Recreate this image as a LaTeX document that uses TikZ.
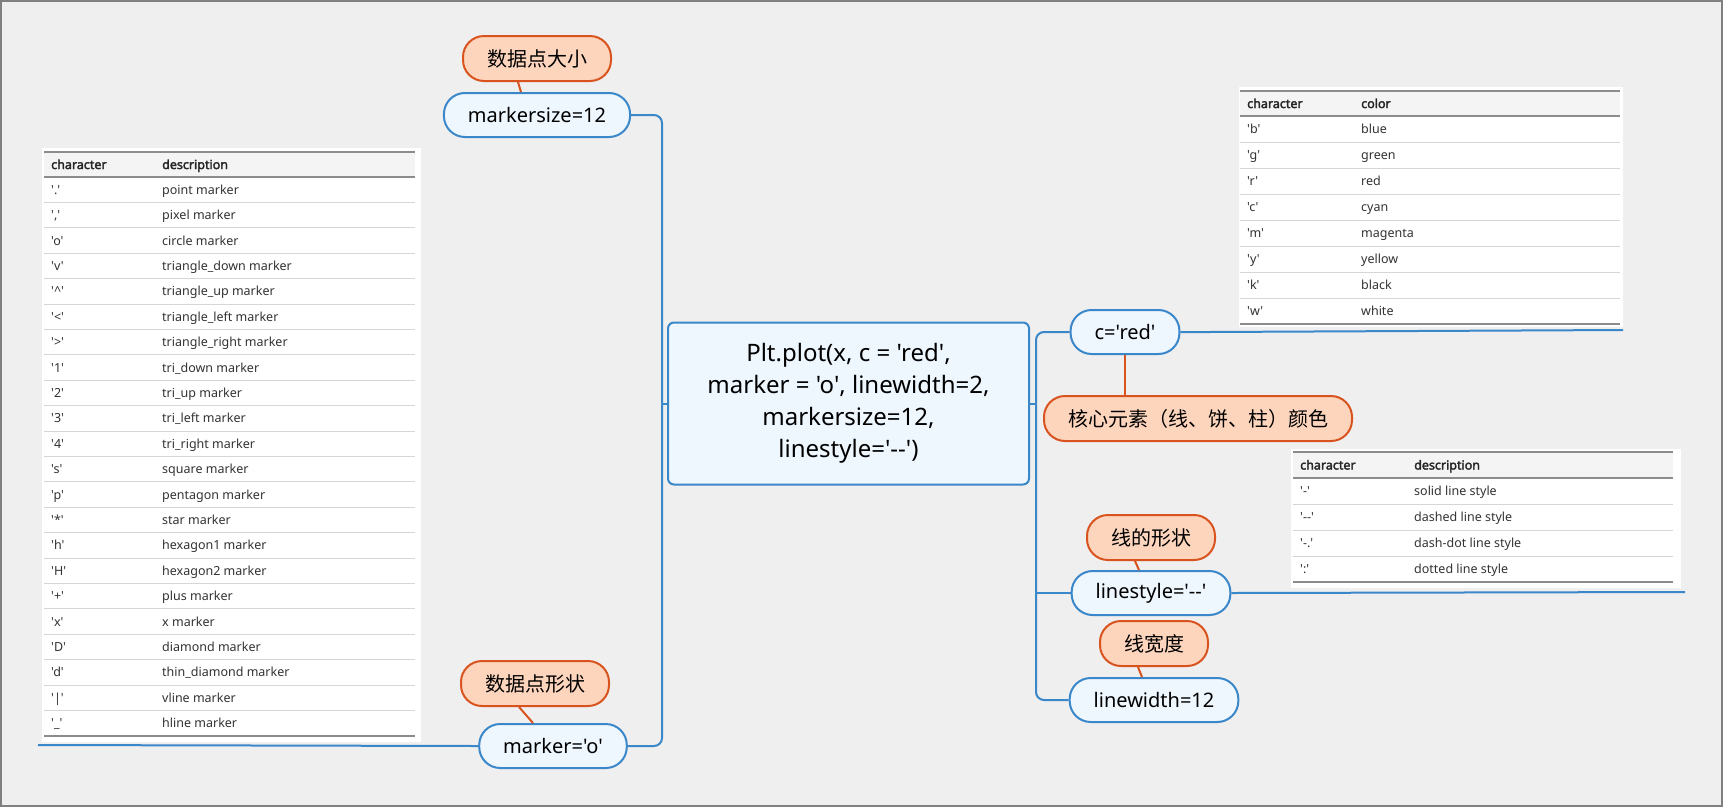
\documentclass[tikz,border=0pt]{standalone}
\usepackage{fontspec}
\setmainfont{Noto Sans}[Ligatures=TeXOff, AutoFakeBold=2.5]
\newfontfamily\cjk{Noto Sans CJK SC}
\usetikzlibrary{positioning}
\definecolor{bgcol}{HTML}{EFEFEF}
\definecolor{framecol}{HTML}{808080}
\definecolor{topicline}{HTML}{3A87C9}
\definecolor{topicfill}{HTML}{EEF6FE}
\definecolor{tagline}{HTML}{D9531E}
\definecolor{tagfill}{HTML}{FDD5BD}
\definecolor{celltext}{HTML}{333333}
\definecolor{headfill}{HTML}{F4F4F4}
\definecolor{sepgray}{HTML}{D6D6D6}
\definecolor{rulegray}{HTML}{8C8C8C}

\begin{document}
\begin{tikzpicture}[x=1pt,y=-1pt,
  topic/.style={draw=topicline, fill=topicfill, line width=2pt, rounded corners=21pt,
    minimum height=44pt, inner xsep=24pt, font=\fontsize{20}{24}\selectfont},
  tag/.style={draw=tagline, fill=tagfill, line width=2pt, rounded corners=21pt,
    minimum height=45pt, inner xsep=24pt, font=\cjk\fontsize{20}{24}\selectfont},
  link/.style={draw=topicline, line width=2pt},
  taglink/.style={draw=tagline, line width=2pt},
  cell/.style={anchor=west, inner sep=0pt, text height=12pt, text depth=3pt,
    text=celltext, font=\fontsize{12.5}{15}\selectfont},
  headcell/.style={cell, text=black!85, font=\bfseries\fontsize{12.5}{15}\selectfont},
  sepline/.style={draw=sepgray, line width=1pt},
  ruleline/.style={draw=rulegray, line width=1.5pt}]
	\useasboundingbox (0,0) rectangle (1723,807);
	\fill[bgcol] (0,0) rectangle (1723,807);
	\draw[framecol, line width=2pt] (1,1) rectangle (1722,806);

	% marker table
	\fill[white] (42,148) rectangle (421,742);
	\fill[headfill] (44,152) rectangle (415,177);
	\node[headcell] (mkhead1) at (51,164.5) {character};
	\node[headcell] (mkhead2) at (162,164.5) {description};
	\foreach \ch/\ds [count=\i] in {
		'.'/point marker, {','}/pixel marker, 'o'/circle marker,
		'v'/triangle\_down marker, '\textasciicircum'/triangle\_up marker,
		'<'/triangle\_left marker, '>'/triangle\_right marker,
		'1'/tri\_down marker, '2'/tri\_up marker, '3'/tri\_left marker,
		'4'/tri\_right marker, 's'/square marker, 'p'/pentagon marker,
		'*'/star marker, 'h'/hexagon1 marker, 'H'/hexagon2 marker,
		'+'/plus marker, 'x'/x marker, 'D'/diamond marker,
		'd'/thin\_diamond marker, '|'/vline marker, '\_'/hline marker}{
		\node[cell] (mkch\i) at (51,{177+25.4*(\i-0.5)}) {\ch};
		\node[cell] (mkds\i) at (162,{177+25.4*(\i-0.5)}) {\ds};
	}
	\foreach \i in {1,...,21}
		\draw[sepline] (44,{177+25.4*\i}) -- (415,{177+25.4*\i});
	\draw[ruleline] (44,152) -- (415,152);
	\draw[ruleline] (44,177) -- (415,177);
	\draw[ruleline] (44,736) -- (415,736);

	% colour table
	\fill[white] (1239,87) rectangle (1623,327);
	\fill[headfill] (1240,91) rectangle (1620,116);
	\node[headcell] (colhead1) at (1247,103.5) {character};
	\node[headcell] (colhead2) at (1361,103.5) {color};
	\foreach \ch/\ds [count=\i] in {'b'/blue, 'g'/green, 'r'/red, 'c'/cyan,
		'm'/magenta, 'y'/yellow, 'k'/black, 'w'/white}{
		\node[cell] (colch\i) at (1247,{116+26*(\i-0.5)}) {\ch};
		\node[cell] (colds\i) at (1361,{116+26*(\i-0.5)}) {\ds};
	}
	\foreach \i in {1,...,7}
		\draw[sepline] (1240,{116+26*\i}) -- (1620,{116+26*\i});
	\draw[ruleline] (1240,91) -- (1620,91);
	\draw[ruleline] (1240,116) -- (1620,116);
	\draw[ruleline] (1240,324) -- (1620,324);

	% line style table
	\fill[white] (1291,449) rectangle (1681,588);
	\fill[headfill] (1293,452) rectangle (1673,478);
	\node[headcell] (lshead1) at (1300,465) {character};
	\node[headcell] (lshead2) at (1414,465) {description};
	\foreach \ch/\ds [count=\i] in {'-'/solid line style, '--'/dashed line style,
		'-.'/dash-dot line style, ':'/dotted line style}{
		\node[cell] (lsch\i) at (1300,{478+26*(\i-0.5)}) {\ch};
		\node[cell] (lsds\i) at (1414,{478+26*(\i-0.5)}) {\ds};
	}
	\foreach \i in {1,...,3}
		\draw[sepline] (1293,{478+26*\i}) -- (1673,{478+26*\i});
	\draw[ruleline] (1293,452) -- (1673,452);
	\draw[ruleline] (1293,478) -- (1673,478);
	\draw[ruleline] (1293,582) -- (1673,582);

	% topics
	\node[draw=topicline, fill=topicfill, line width=2pt, rounded corners=6pt,
		minimum width=361pt, minimum height=162pt, align=center,
		font=\fontsize{24}{32}\selectfont] (plotcall) at (848.5,403.5)
		{Plt.plot(x, c = 'red',\\marker = 'o', linewidth=2,\\markersize=12,\\linestyle='--')};
	\node[topic] (msize) at (537,115) {markersize=12};
	\node[topic] (mshape) at (553,746) {marker='o'};
	\node[topic] (cred) at (1125,332) {c='red'};
	\node[topic] (lstyle) at (1151,593) {linestyle='--'};
	\node[topic] (lwidth) at (1154,700) {linewidth=12};

	% tags
	\node[tag, above=10pt of msize] (msizetag) {数据点大小};
	\node[tag, above=16pt of mshape, xshift=-18pt] (mshapetag) {数据点形状};
	\node[tag, below=40pt of cred, xshift=73pt] (credtag) {核心元素（线、饼、柱）颜色};
	\node[tag, above=9pt of lstyle] (lstyletag) {线的形状};
	\node[tag, above=10pt of lwidth] (lwidthtag) {线宽度};

	% branches
	\coordinate (ltrunk) at (662,403.5);
	\coordinate (rtrunk) at (1036,403.5);
	\draw[link] (plotcall.west) -- (ltrunk);
	\draw[link] (plotcall.east) -- (rtrunk);
	\draw[link, rounded corners=8pt] (ltrunk) |- (msize.east);
	\draw[link, rounded corners=8pt] (ltrunk) |- (mshape.east);
	\draw[link, rounded corners=8pt] (rtrunk) |- (cred.west);
	\draw[link] (rtrunk) |- (lstyle.west);
	\draw[link, rounded corners=8pt] (rtrunk) |- (lwidth.west);

	% underlines to the tables
	\coordinate (mkend) at (38,745);
	\coordinate (colend) at (1623,330);
	\coordinate (lsend) at (1685,592);
	\draw[link] (mshape.west) -- (mkend);
	\draw[link] (cred.east) -- ++(28,0) -- (colend);
	\draw[link] (lstyle.east) -- (lsend);

	% tag links
	\draw[taglink] ([xshift=-19pt]msizetag.south) -- ([xshift=-16pt]msize.north);
	\draw[taglink] ([xshift=-16pt]mshapetag.south) -- ([xshift=-20pt]mshape.north);
	\draw[taglink] (cred.south) -- (cred.south |- credtag.north);
	\draw[taglink] ([xshift=-16pt]lstyletag.south) -- ([xshift=-12pt]lstyle.north);
	\draw[taglink] ([xshift=-16pt]lwidthtag.south) -- ([xshift=-12pt]lwidth.north);
\end{tikzpicture}
\end{document}
